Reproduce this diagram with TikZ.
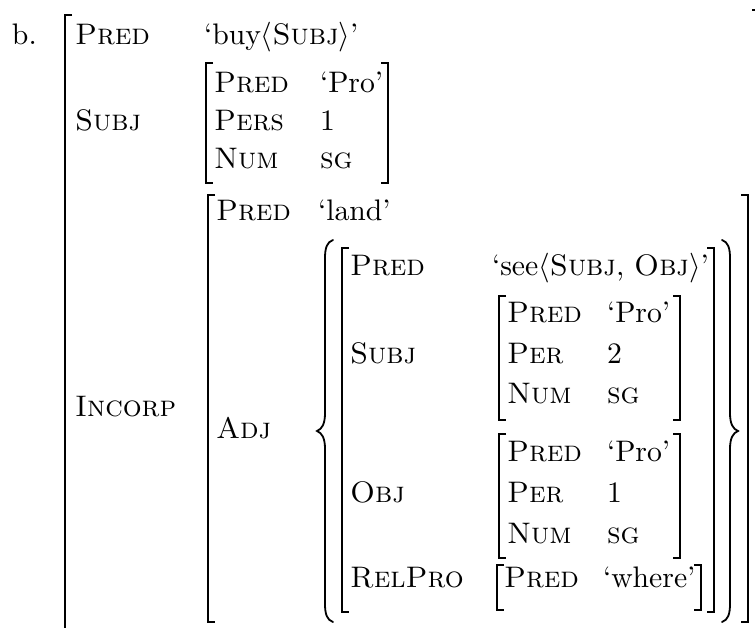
\documentclass[tikz,border=0pt]{standalone}
\begin{document}
\begin{tikzpicture}[x=1pt,y=-1pt,
  txt/.style={inner sep=0pt, outer sep=0pt, anchor=base west, scale=2.97, font=\fontsize{10}{12}\selectfont},
  brk/.style={line width=1.1pt, line cap=butt, line join=miter},
  brc/.style={line width=1.8pt, line cap=round}]
\useasboundingbox (0,0) rectangle (755,628);
% helper: bracket pair
\def\avmbox#1#2#3#4{%
  \draw[brk] (#1+7,#3) -- (#1,#3) -- (#1,#4) -- (#1+7,#4);
  \draw[brk] (#2-7,#3) -- (#2,#3) -- (#2,#4) -- (#2-7,#4);}
% outer
\node[txt] (ex) at (12,45) {b.};
\draw[brk] (72,15) -- (65,15) -- (65,628);
\draw[brk] (752,10) -- (755,10);
\node[txt] (p0) at (75,45) {\textsc{Pred}};
\node[txt] (v0) at (204,45) {‘buy$\langle$\textsc{Subj}$\rangle$’};
\node[txt] (s0) at (75,131) {\textsc{Subj}};
\avmbox{206}{388}{63}{183}
\node[txt] (s1a) at (214,93) {\textsc{Pred}};
\node[txt] (s1b) at (320,93) {‘Pro’};
\node[txt] (s2a) at (214,131) {\textsc{Pers}};
\node[txt] (s2b) at (320,131) {1};
\node[txt] (s3a) at (214,169) {\textsc{Num}};
\node[txt] (s3b) at (320,169) {\textsc{sg}};
% incorp
\node[txt] (i0) at (75,416) {\textsc{Incorp}};
\avmbox{208}{748}{195}{622}
\node[txt] (ip) at (216,221) {\textsc{Pred}};
\node[txt] (iv) at (318,221) {‘land’};
\node[txt] (adj) at (216,438) {\textsc{Adj}};
% braces
\draw[brc] (333,240) .. controls (327,242) and (325,248) .. (325,258) -- (325,413)
  .. controls (325,424) and (322,429) .. (317,431) .. controls (322,433) and (325,438) .. (325,449)
  -- (325,604) .. controls (325,614) and (327,620) .. (333,622);
\draw[brc] (722,240) .. controls (728,242) and (730,248) .. (730,258) -- (730,413)
  .. controls (730,424) and (733,429) .. (738,431) .. controls (733,433) and (730,438) .. (730,449)
  -- (730,604) .. controls (730,614) and (728,620) .. (722,622);
% adj member
\avmbox{342}{714}{248}{612}
\node[txt] (m1a) at (350,276) {\textsc{Pred}};
\node[txt] (m1b) at (492,276) {‘see$\langle$\textsc{Subj}, \textsc{Obj}$\rangle$’};
\node[txt] (m2) at (350,363) {\textsc{Subj}};
\avmbox{499}{680}{296}{420}
\node[txt] (a1a) at (507,323) {\textsc{Pred}};
\node[txt] (a1b) at (607,323) {‘Pro’};
\node[txt] (a2a) at (507,363) {\textsc{Per}};
\node[txt] (a2b) at (607,363) {2};
\node[txt] (a3a) at (507,403) {\textsc{Num}};
\node[txt] (a3b) at (607,403) {\textsc{sg}};
\node[txt] (m3) at (350,502) {\textsc{Obj}};
\avmbox{499}{680}{434}{558}
\node[txt] (o1a) at (507,461) {\textsc{Pred}};
\node[txt] (o1b) at (607,461) {‘Pro’};
\node[txt] (o2a) at (507,502) {\textsc{Per}};
\node[txt] (o2b) at (607,502) {1};
\node[txt] (o3a) at (507,543) {\textsc{Num}};
\node[txt] (o3b) at (607,543) {\textsc{sg}};
\node[txt] (m4) at (350,587) {\textsc{RelPro}};
\avmbox{497}{701}{565}{610}
\node[txt] (r1a) at (504,587) {\textsc{Pred}};
\node[txt] (r1b) at (603,587) {‘where’};
\end{tikzpicture}
\end{document}
